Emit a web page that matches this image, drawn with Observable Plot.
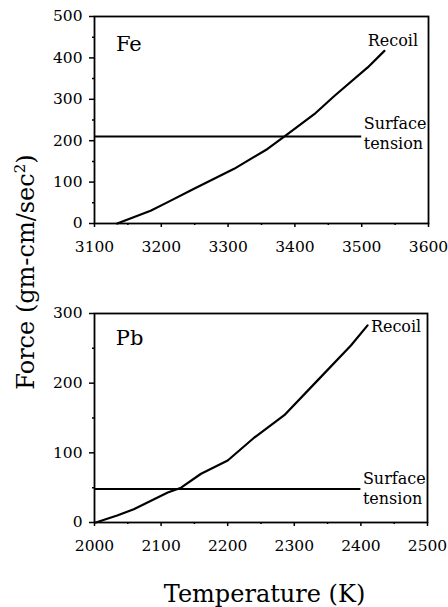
<!DOCTYPE html>
<html>
<head>
<meta charset="utf-8">
<script src="https://cdn.jsdelivr.net/npm/d3@7"></script>
<script src="https://cdn.jsdelivr.net/npm/@observablehq/plot@0.6"></script>
<style>
  html, body { margin: 0; padding: 0; background: white; }
  #wrap { position: relative; width: 448px; height: 607px; background: white; overflow: hidden; font-family: "DejaVu Serif", serif; color: black; }
  #wrap svg { position: absolute; left: 0; z-index: 1; }
  #ylab { position: absolute; z-index: 5; left: 25px; top: 272px; transform: translate(-50%, -50%) rotate(-90deg); white-space: nowrap; font-size: 24px; }
  #ylab sup { font-size: 15px; }
  #xlab { position: absolute; z-index: 5; left: 0; width: 529px; top: 582px; text-align: center; font-size: 24px; line-height: 24px; white-space: nowrap; }
</style>
</head>
<body>
<div id="wrap">
  <div id="ylab">Force (gm-cm/sec<sup>2</sup>)</div>
  <div id="xlab">Temperature (K)</div>
</div>
<script>
// ---- Fe panel ----
const feTemp   = [3134, 3184, 3209, 3249, 3309, 3359, 3386, 3429, 3459, 3509, 3534];
const feRecoil = [0, 31, 51, 84, 132, 180, 212, 264, 308, 377, 417];
const feSurface = 210;
const feSurfaceSpan = [3100, 3500];
const feXTicks = [3100, 3200, 3300, 3400, 3500, 3600];
const feXMinor = [3150, 3250, 3350, 3450, 3550];
const feYTicks = [0, 100, 200, 300, 400, 500];
const feYMinor = [50, 150, 250, 350, 450];

// ---- Pb panel ----
const pbTemp   = [2002, 2034, 2059, 2110, 2130, 2160, 2200, 2240, 2285, 2335, 2385, 2410];
const pbRecoil = [0, 10, 19, 43, 50, 70, 89, 122, 154, 204, 254, 283];
const pbSurface = 48;
const pbSurfaceSpan = [2000, 2400];
const pbXTicks = [2000, 2100, 2200, 2300, 2400, 2500];
const pbXMinor = [2050, 2150, 2250, 2350, 2450];
const pbYTicks = [0, 100, 200, 300];
const pbYMinor = [50, 150, 250];

// labels
const feElement = {name: "Fe", x: 3132, y: 434};
const feRecoilLabel = {text: "Recoil", x: 3509, y: 441};
const feSurfaceLabel = [{text: "Surface", x: 3500, y: 240}, {text: "tension", x: 3500, y: 192}];
const pbElement = {name: "Pb", x: 2032, y: 264};
const pbRecoilLabel = {text: "Recoil", x: 2415, y: 281};
const pbSurfaceLabel = [{text: "Surface", x: 2400, y: 63}, {text: "tension", x: 2400, y: 34}];

function panel(o) {
  const line = o.temp.map((t, i) => ({t, f: o.recoil[i]}));
  return Plot.plot({
    width: 448, height: o.height,
    marginLeft: 94, marginRight: o.marginRight, marginTop: o.marginTop, marginBottom: o.marginBottom,
    x: {domain: o.xDomain},
    y: {domain: o.yDomain},
    style: {fontFamily: "DejaVu Serif", fontSize: "16px", color: "black", background: "transparent"},
    marks: [
      Plot.axisX(o.xTicks, {tickSize: 4, tickPadding: 13, tickFormat: d => String(d), label: null, strokeWidth: 1.5, fontSize: 15.5}),
      Plot.axisX(o.xMinor, {tickSize: 2, text: null, label: null, strokeWidth: 1.5}),
      Plot.axisY(o.yTicks, {tickSize: 5, tickPadding: 7, tickFormat: d => String(d), label: null, strokeWidth: 1.5, fontSize: 15.5}),
      Plot.axisY(o.yMinor, {tickSize: 2, text: null, label: null, strokeWidth: 1.5}),
      Plot.frame({strokeWidth: 1.8}),
      Plot.ruleY([o.surface], {x1: o.surfaceSpan[0], x2: o.surfaceSpan[1], strokeWidth: 2}),
      Plot.line(line, {x: "t", y: "f", strokeWidth: 2.2}),
      Plot.text([o.element], {x: "x", y: "y", text: "name", textAnchor: "start", fontSize: 21}),
      Plot.text([o.recoilLabel], {x: "x", y: "y", text: "text", textAnchor: "start", fontSize: 16}),
      Plot.text(o.surfaceLabel, {x: "x", y: "y", text: "text", textAnchor: "start", dx: 2, fontSize: 16})
    ]
  });
}

const fePanel = panel({
  height: 260, marginTop: 16, marginBottom: 37, marginRight: 20,
  xDomain: [3100, 3600], yDomain: [0, 500],
  temp: feTemp, recoil: feRecoil, surface: feSurface, surfaceSpan: feSurfaceSpan,
  xTicks: feXTicks, xMinor: feXMinor, yTicks: feYTicks, yMinor: feYMinor,
  element: feElement, recoilLabel: feRecoilLabel, surfaceLabel: feSurfaceLabel
});
fePanel.style.top = "0px";

const pbPanel = panel({
  height: 290, marginTop: 43, marginBottom: 38, marginRight: 21,
  xDomain: [2000, 2500], yDomain: [0, 300],
  temp: pbTemp, recoil: pbRecoil, surface: pbSurface, surfaceSpan: pbSurfaceSpan,
  xTicks: pbXTicks, xMinor: pbXMinor, yTicks: pbYTicks, yMinor: pbYMinor,
  element: pbElement, recoilLabel: pbRecoilLabel, surfaceLabel: pbSurfaceLabel
});
pbPanel.style.top = "270px";

const wrap = document.getElementById("wrap");
wrap.appendChild(fePanel);
wrap.appendChild(pbPanel);
</script>
</body>
</html>
